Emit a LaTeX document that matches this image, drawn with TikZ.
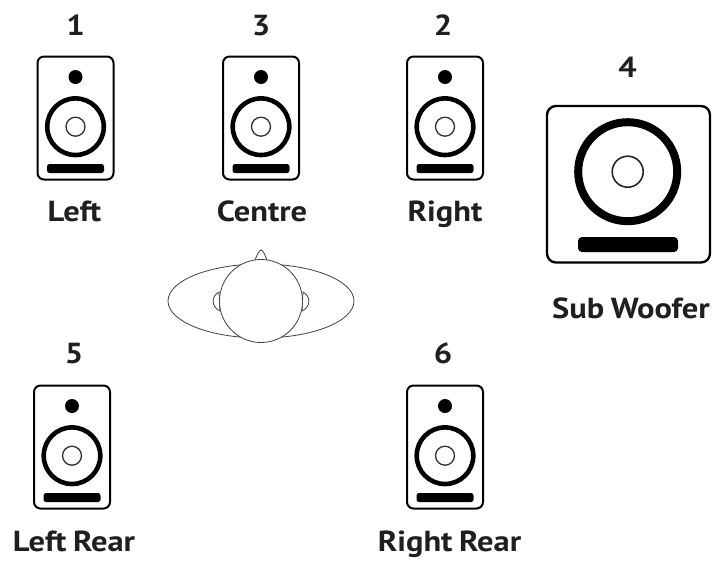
\documentclass[tikz,border=0pt]{standalone}
\usepackage{fontspec}
\setmainfont[FakeStretch=1.12,WordSpace=0.8]{PT Sans}
\tikzset{
  lab/.style={font=\bfseries\fontsize{29}{29}\selectfont, text=black!88, inner sep=0pt, anchor=base},
  num/.style={font=\bfseries\fontsize{29}{29}\selectfont, text=black!88, inner sep=0pt, anchor=base},
  pics/monitor/.style={code={
    \draw[line width=2pt, rounded corners=6.5pt, fill=white] (-38,-61.5) rectangle (38,61.5);
    \fill (0,-41) circle (7);
    \draw[line width=4.6pt] (0,8.7) circle (28.3);
    \draw[line width=1.3pt, black!80] (0,8.7) circle (9.5);
    \fill[rounded corners=2.5pt] (-28.5,46) rectangle (28.5,55);
  }},
}
\begin{document}
\begin{tikzpicture}[x=1pt,y=-1pt]
\useasboundingbox (0,0) rectangle (715,568);
\pic at (75.5,118) {monitor};
\pic at (261,118) {monitor};
\pic at (445,118) {monitor};
\pic at (72,447) {monitor};
\pic at (445,447) {monitor};
% subwoofer
\draw[line width=2.4pt, rounded corners=9pt, fill=white] (547,106) rectangle (710,262.5);
\draw[line width=8pt] (627.7,171.7) circle (49.5);
\draw[line width=1.6pt, black!85] (627.7,171.7) circle (15.5);
\fill[rounded corners=4pt] (578,237) rectangle (678,252);
% head
\draw[line width=0.8pt, black!75] (261,301) ellipse (93 and 37);
\draw[line width=0.8pt, black!75, fill=white] (219,292) .. controls (211,296) and (211,307) .. (220,311) -- cycle;
\draw[line width=0.8pt, black!75, fill=white] (303,292) .. controls (311,296) and (311,307) .. (302,311) -- cycle;
\draw[line width=0.8pt, black!75, fill=white] (255,260) .. controls (257,255) and (259,250) .. (261,250) .. controls (263,250) and (265,255) .. (267,260);
\draw[line width=0.8pt, black!75, fill=white] (261,301) circle (41.5);
% labels
\node[num] (n1) at (75.5,35) {1};
\node[num] (n3) at (261,35) {3};
\node[num] (n2) at (443,35) {2};
\node[num] (n4) at (627.5,77) {4};
\node[num] (n5) at (74,363) {5};
\node[num] (n6) at (443,363) {6};
\node[lab] (l1) at (74.5,221) {Left};
\node[lab] (l3) at (262,221) {Centre};
\node[lab] (l2) at (445,221) {Right};
\node[lab] (l4) at (631,318) {Sub Woofer};
\node[lab] (l5) at (74,551) {Left Rear};
\node[lab] (l6) at (449.5,551) {Right Rear};
\end{tikzpicture}
\end{document}
